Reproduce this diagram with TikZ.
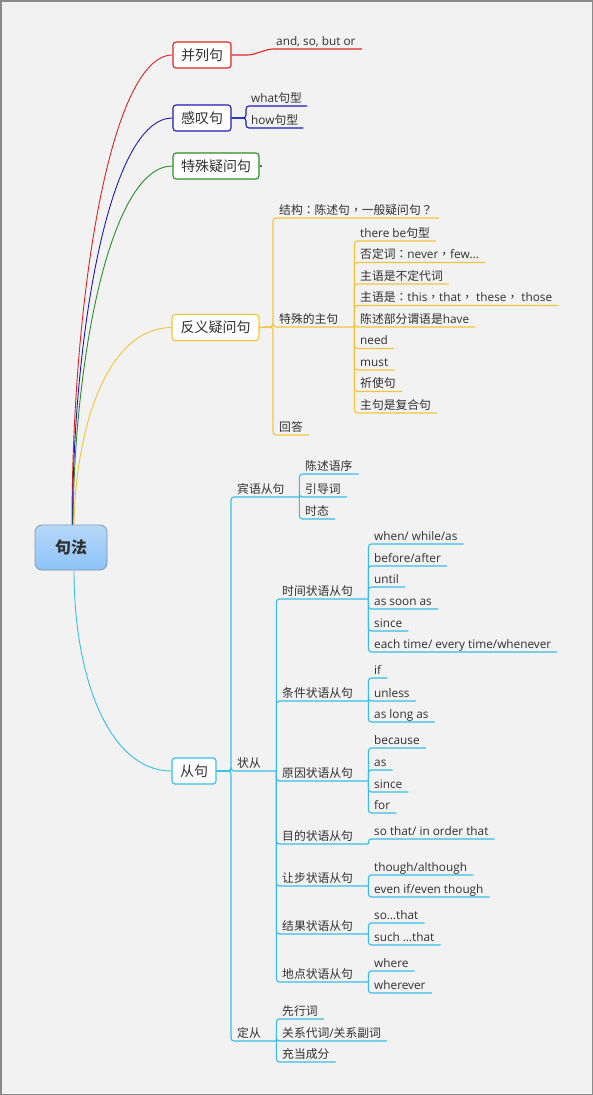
\documentclass[tikz,border=0pt]{standalone}
\usepackage{fontspec}
\setmainfont{Open Sans}
\newfontfamily\cjk{Noto Sans CJK SC}
\newfontfamily\cjkp{Noto Sans CJK TC}
\newcommand\zh[1]{{\cjk #1}}
\newcommand\pu[1]{{\cjkp #1}}
\definecolor{bg}{HTML}{F2F2F2}
\definecolor{frame}{HTML}{8A8A8A}
\definecolor{txt}{HTML}{303030}
\definecolor{cred}{HTML}{E02424}
\definecolor{cblue}{HTML}{1C1CB4}
\definecolor{cgreen}{HTML}{2C8C2C}
\definecolor{cyel}{HTML}{F2C43C}
\definecolor{ccyan}{HTML}{36BFE2}
\definecolor{rootdraw}{HTML}{7F95AD}
\definecolor{roottop}{HTML}{B8D8F8}
\definecolor{rootbot}{HTML}{8CC3F8}
\tikzset{
  leaf/.style={anchor=south west, inner xsep=6pt, inner ysep=1.5pt,
    text height=9pt, text depth=2pt, font=\fontsize{11.8}{13}\selectfont, text=txt},
  mbox/.style={draw, fill=white, rounded corners=3pt, line width=1.1pt,
    minimum height=26pt, inner sep=0pt, font=\cjk\fontsize{14}{16}\selectfont, text=txt},
  rootbox/.style={draw=rootdraw, line width=0.8pt, rounded corners=7pt,
    top color=roottop, bottom color=rootbot, minimum width=72pt, minimum height=45pt,
    font=\cjk\bfseries\fontsize{16}{18}\selectfont, text=txt},
  ln/.style={line width=1.1pt, rounded corners=3pt},
  cur/.style={line width=0.9pt},
}
\begin{document}
\begin{tikzpicture}[x=1pt,y=-1pt]
\useasboundingbox (0,0) rectangle (593,1095);
\fill[bg] (0,0) rectangle (593,1095);
\draw[frame, line width=1.5pt] (0.75,0.75) rectangle (592.25,1094.25);

% root
\node[rootbox] (root) at (71,547.5) {句法};

% main boxes
\node[mbox, draw=cred, minimum width=58pt] (bl) at (202,55) {并列句};
\node[mbox, draw=cblue, minimum width=58pt] (gt) at (202,118) {感叹句};
\node[mbox, draw=cgreen, minimum width=86pt] (ts) at (216,166) {特殊疑问句};
\node[mbox, draw=cyel, minimum width=87pt] (fy) at (215.5,327.5) {反义疑问句};
\node[mbox, draw=ccyan, minimum width=44pt] (cj) at (194,771) {从句};

% root curves
\draw[cur, cred] ([xshift=1pt]root.north) .. controls (72,300) and (110,55) .. (bl.west);
\draw[cur, cblue] ([xshift=1.5pt]root.north) .. controls (73,330) and (110,118) .. (gt.west);
\draw[cur, cgreen] ([xshift=2pt]root.north) .. controls (74,360) and (110,166) .. (ts.west);
\draw[cur, cyel] ([xshift=3pt]root.north) .. controls (76,420) and (110,327.5) .. (fy.west);
\draw[cur, ccyan] ([xshift=3pt]root.south) .. controls (74,680) and (110,771) .. (cj.west);

% 并列句
\node[leaf] (bl1) at (270,49) {and, so, but or};
\draw[ln, cred] (bl.east) -- ++(19,0) -- (bl1.south west) -- (bl1.south east);

% 感叹句
\coordinate (gtj) at (246,118);
\node[leaf, inner xsep=5pt] (gt1) at (246,106) {what\zh{句型}};
\node[leaf, inner xsep=5pt] (gt2) at (246,128) {how\zh{句型}};
\draw[ln, cblue] (gt.east) -- (gtj) |- (gt1.south east);
\draw[ln, cblue] (gt.east) -- (gtj) |- (gt2.south east);

% 特殊疑问句
\coordinate (tsj) at (262,166);
\draw[line width=1.1pt, cgreen] (ts.east) -- (tsj);

% 反义疑问句
\coordinate (fyj) at (273,327);
\node[leaf] (fy1) at (273,218) {\zh{结构}\pu{：}\zh{陈述句}\pu{，}\zh{一般疑问句}\pu{？}};
\node[leaf, text width=69pt] (fy2) at (273,327) {\zh{特殊的主句}};
\node[leaf] (fy3) at (273,435) {\zh{回答}};
\foreach \c in {fy1,fy2,fy3} \draw[ln, cyel] (fy.east) -- (fyj) |- (\c.south east);

\node[leaf] (s1) at (354,241) {there be\zh{句型}};
\node[leaf] (s2) at (354,262.5) {\zh{否定词}\pu{：}never\pu{，}few…};
\node[leaf] (s3) at (354,284) {\zh{主语是不定代词}};
\node[leaf] (s4) at (354,305.5) {\zh{主语是}\pu{：}this\pu{，}that\pu{，} these\pu{，} those};
\node[leaf] (s5) at (354,327) {\zh{陈述部分谓语是}have};
\node[leaf] (s6) at (354,348.5) {need};
\node[leaf] (s7) at (354,370) {must};
\node[leaf] (s8) at (354,391.5) {\zh{祈使句}};
\node[leaf] (s9) at (354,413) {\zh{主句是复合句}};
\foreach \c in {s1,s2,s3,s4,s5,s6,s7,s8,s9} \draw[ln, cyel] (fy2.south east) |- (\c.south east);

% 从句
\coordinate (cjj) at (231,771);
\node[leaf, text width=56pt] (by) at (231,497) {\zh{宾语从句}};
\node[leaf, text width=33pt] (zc) at (231,771) {\zh{状从}};
\node[leaf, text width=33pt] (dc) at (231,1041) {\zh{定从}};
\foreach \c in {by,zc,dc} \draw[ln, ccyan] (cj.east) -- (cjj) |- (\c.south east);

% 宾语从句
\node[leaf] (by1) at (299,474) {\zh{陈述语序}};
\node[leaf] (by2) at (299,497) {\zh{引导词}};
\node[leaf] (by3) at (299,519) {\zh{时态}};
\foreach \c in {by1,by2,by3} \draw[ln, ccyan] (by.south east) |- (\c.south east);

% 状从
\node[leaf, text width=80pt] (z1) at (276,599) {\zh{时间状语从句}};
\node[leaf, text width=80pt] (z2) at (276,701) {\zh{条件状语从句}};
\node[leaf, text width=80pt] (z3) at (276,781) {\zh{原因状语从句}};
\node[leaf, text width=80pt] (z4) at (276,844) {\zh{目的状语从句}};
\node[leaf, text width=80pt] (z5) at (276,886) {\zh{让步状语从句}};
\node[leaf, text width=80pt] (z6) at (276,934) {\zh{结果状语从句}};
\node[leaf, text width=80pt] (z7) at (276,982) {\zh{地点状语从句}};
\foreach \c in {z1,z2,z3,z4,z5,z6,z7} \draw[ln, ccyan] (zc.south east) |- (\c.south east);

% 时间
\node[leaf] (t1) at (368,544) {when/ while/as};
\node[leaf] (t2) at (368,566) {before/after};
\node[leaf] (t3) at (368,587) {until};
\node[leaf] (t4) at (368,609) {as soon as};
\node[leaf] (t5) at (368,631) {since};
\node[leaf] (t6) at (368,652) {each time/ every time/whenever};
\foreach \c in {t1,t2,t3,t4,t5,t6} \draw[ln, ccyan] (z1.south east) |- (\c.south east);

% 条件
\node[leaf] (k1) at (368,678) {if};
\node[leaf] (k2) at (368,701) {unless};
\node[leaf] (k3) at (368,722) {as long as};
\foreach \c in {k1,k2,k3} \draw[ln, ccyan] (z2.south east) |- (\c.south east);

% 原因
\node[leaf] (y1) at (368,748) {because};
\node[leaf] (y2) at (368,770) {as};
\node[leaf] (y3) at (368,792) {since};
\node[leaf] (y4) at (368,813) {for};
\foreach \c in {y1,y2,y3,y4} \draw[ln, ccyan] (z3.south east) |- (\c.south east);

% 目的
\node[leaf] (m1) at (368,839) {so that/ in order that};
\draw[ln, ccyan] (z4.south east) |- (m1.south east);

% 让步
\node[leaf] (r1) at (368,875) {though/although};
\node[leaf] (r2) at (368,897) {even if/even though};
\foreach \c in {r1,r2} \draw[ln, ccyan] (z5.south east) |- (\c.south east);

% 结果
\node[leaf] (g1) at (368,923) {so…that};
\node[leaf] (g2) at (368,945) {such …that};
\foreach \c in {g1,g2} \draw[ln, ccyan] (z6.south east) |- (\c.south east);

% 地点
\node[leaf] (d1) at (368,971) {where};
\node[leaf] (d2) at (368,993) {wherever};
\foreach \c in {d1,d2} \draw[ln, ccyan] (z7.south east) |- (\c.south east);

% 定从
\node[leaf] (f1) at (276,1019) {\zh{先行词}};
\node[leaf] (f2) at (276,1041) {\zh{关系代词}/\zh{关系副词}};
\node[leaf] (f3) at (276,1062) {\zh{充当成分}};
\foreach \c in {f1,f2,f3} \draw[ln, ccyan] (dc.south east) |- (\c.south east);
\end{tikzpicture}
\end{document}
